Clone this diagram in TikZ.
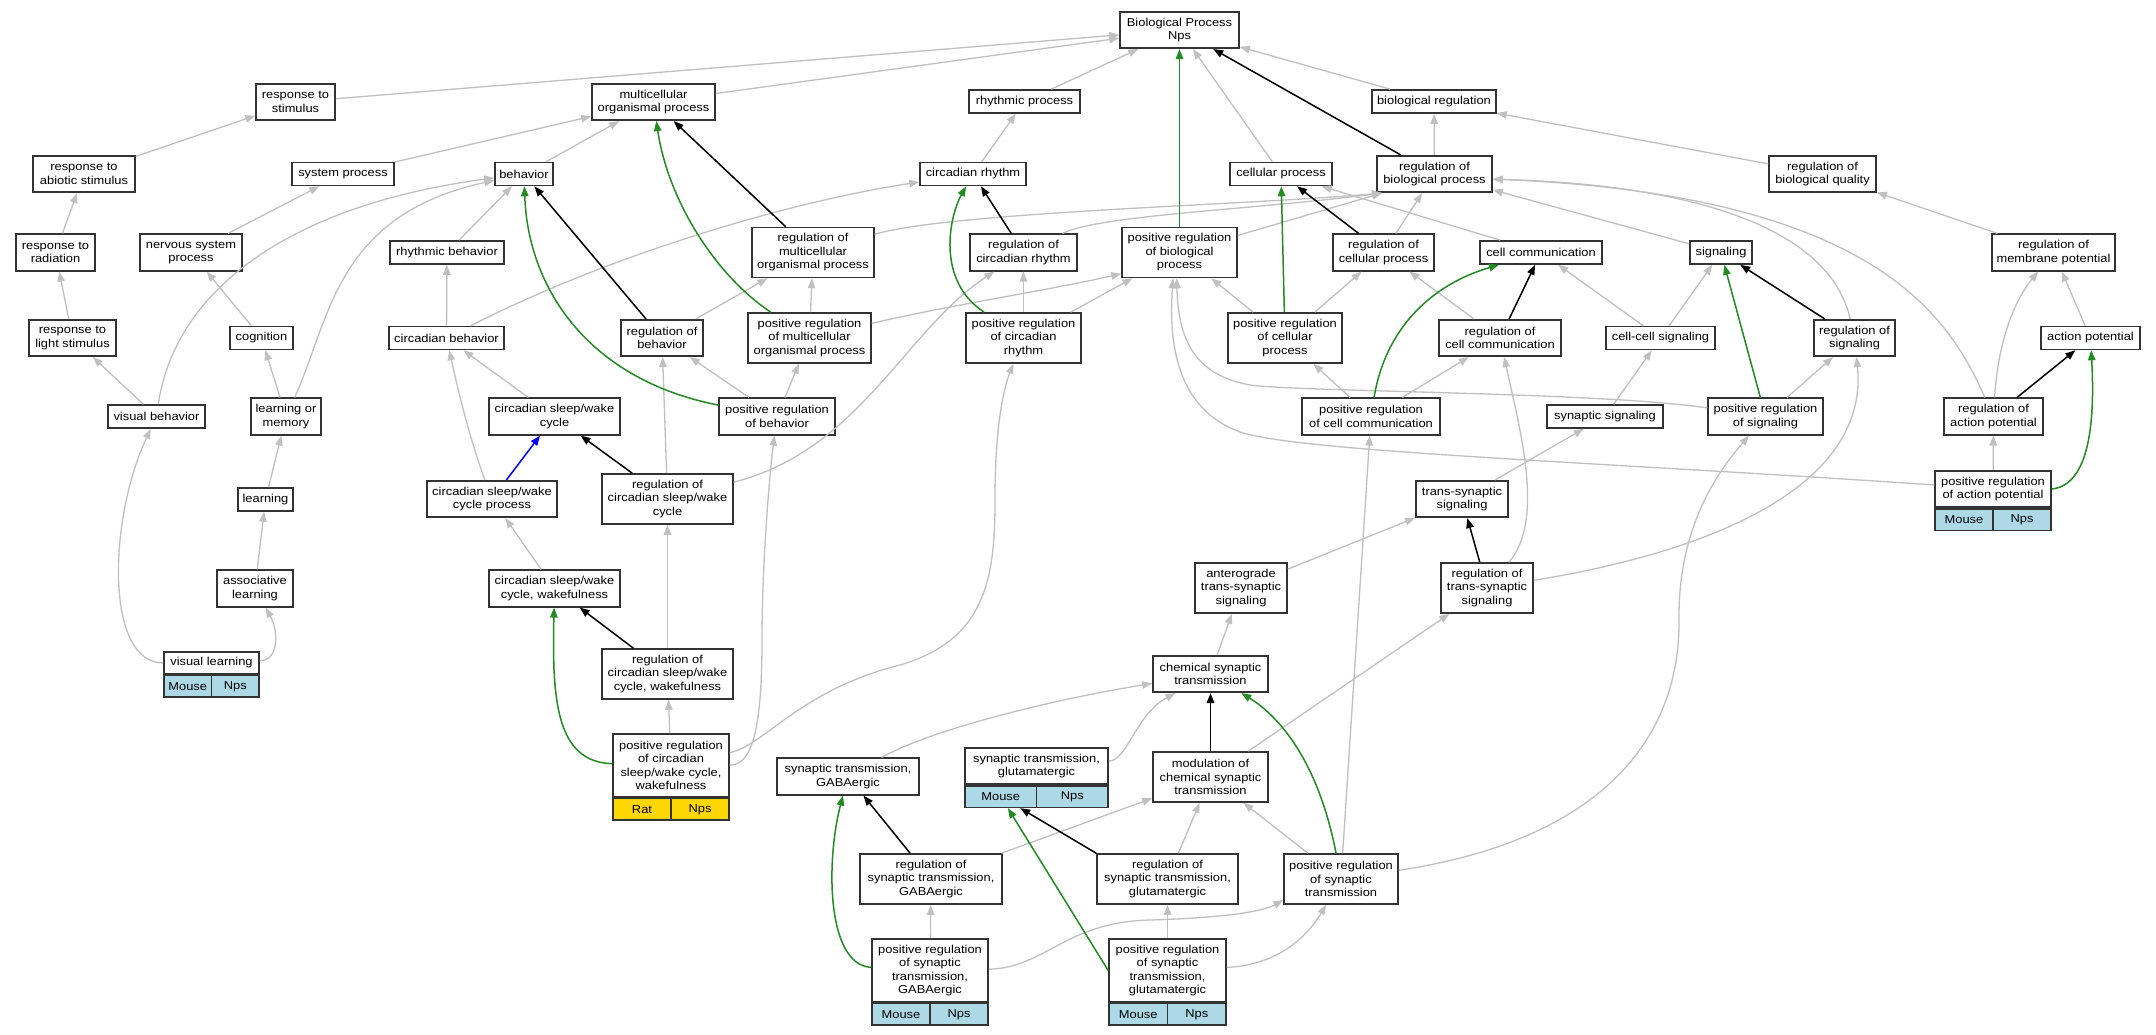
\documentclass[tikz,border=0pt]{standalone}
\usepackage{fontspec}
\setmainfont{Liberation Sans}[FakeStretch=1.12]
\usetikzlibrary{arrows.meta}
\definecolor{isagray}{HTML}{C0C0C0}
\definecolor{posgreen}{HTML}{228B22}
\definecolor{mouseblue}{HTML}{ADD8E6}
\definecolor{ratgold}{HTML}{FFD700}
\begin{document}
\begin{tikzpicture}[x=1pt, y=1pt, >={Triangle[length=10pt,width=7.5pt]},
  term/.style={draw=black!80, line width=1.6, fill=white, inner sep=0pt, align=center, minimum height=23},
  h2/.style={minimum height=36.5}, h3/.style={minimum height=50}, h4/.style={minimum height=63},
  gene/.style={draw=black!80, line width=1.6, inner sep=0pt, minimum height=21.5},
  isa/.style={->, isagray, line width=1.3},
  reg/.style={->, black, line width=1.5},
  posreg/.style={->, posgreen, line width=1.5},
  partof/.style={->, blue, line width=1.5}]
\path[fill=white] (0,0) rectangle (2156,-1035);
\useasboundingbox (0,0) rectangle (2156,-1035);
\begin{scope}[every node/.style={font=\fontsize{11.5}{13.5}\selectfont}]
\node[term, h2, minimum width=119] (bp) at (1179.5,-30) {Biological Process\\Nps};
\node[term, h2, minimum width=79] (respstim) at (295.5,-102) {response to\\stimulus};
\node[term, h2, minimum width=123] (multorg) at (653.5,-102) {multicellular\\organismal process};
\node[term, minimum width=111] (rhythproc) at (1024.5,-101.5) {rhythmic process};
\node[term, minimum width=124] (bioreg) at (1434,-101.5) {biological regulation};
\node[term, h2, minimum width=102] (respabio) at (84,-174) {response to\\abiotic stimulus};
\node[term, minimum width=102] (sysproc) at (343,-174) {system process};
\node[term, minimum width=58] (behavior) at (524,-174) {behavior};
\node[term, minimum width=106] (circrhythm) at (973,-174) {circadian rhythm};
\node[term, minimum width=102] (cellproc) at (1281,-174) {cellular process};
\node[term, h2, minimum width=115] (regbp) at (1434.5,-174) {regulation of\\biological process};
\node[term, h2, minimum width=107] (regbioqual) at (1822.5,-174) {regulation of\\biological quality};
\node[term, h2, minimum width=79] (resprad) at (55.5,-252.5) {response to\\radiation};
\node[term, h2, minimum width=102] (nervsys) at (191,-252.5) {nervous system\\process};
\node[term, minimum width=114] (rhythbeh) at (447,-252.5) {rhythmic behavior};
\node[term, h3, minimum width=122] (regmulti) at (813,-252.5) {regulation of\\multicellular\\organismal process};
\node[term, h2, minimum width=107] (regcircr) at (1023.5,-252.5) {regulation of\\circadian rhythm};
\node[term, h3, minimum width=115] (posregbp) at (1179.5,-252.5) {positive regulation\\of biological\\process};
\node[term, h2, minimum width=101] (regcellproc) at (1383.5,-252.5) {regulation of\\cellular process};
\node[term, minimum width=122] (cellcomm) at (1541,-252.5) {cell communication};
\node[term, minimum width=62] (signaling) at (1721,-252.5) {signaling};
\node[term, h2, minimum width=123] (regmemb) at (2053.5,-252.5) {regulation of\\membrane potential};
\node[term, h2, minimum width=87] (resplight) at (72.5,-338) {response to\\light stimulus};
\node[term, minimum width=63] (cognition) at (261.5,-338) {cognition};
\node[term, minimum width=115] (circbeh) at (446.5,-338) {circadian behavior};
\node[term, h2, minimum width=82] (regbeh) at (662,-338) {regulation of\\behavior};
\node[term, h3, minimum width=123] (posregmulti) at (809.5,-338) {positive regulation\\of multicellular\\organismal process};
\node[term, h3, minimum width=115] (posregcircr) at (1023.5,-338) {positive regulation\\of circadian\\rhythm};
\node[term, h3, minimum width=114] (posregcell) at (1285,-338) {positive regulation\\of cellular\\process};
\node[term, h2, minimum width=122] (regcellcomm) at (1500,-338) {regulation of\\cell communication};
\node[term, minimum width=109] (cellcell) at (1660.5,-338) {cell-cell signaling};
\node[term, h2, minimum width=81] (regsig) at (1854.5,-338) {regulation of\\signaling};
\node[term, minimum width=99] (actpot) at (2090.5,-338) {action potential};
\node[term, minimum width=97] (visbeh) at (156.5,-416.5) {visual behavior};
\node[term, h2, minimum width=70] (learnmem) at (286,-416.5) {learning or\\memory};
\node[term, h2, minimum width=131] (cswcycle) at (554.5,-416.5) {circadian sleep/wake\\cycle};
\node[term, h2, minimum width=116] (posregbeh) at (777,-416.5) {positive regulation\\of behavior};
\node[term, h2, minimum width=138] (posregcc) at (1371,-416.5) {positive regulation\\of cell communication};
\node[term, minimum width=116] (synsig) at (1605,-416.5) {synaptic signaling};
\node[term, h2, minimum width=115] (posregsig) at (1765.5,-416.5) {positive regulation\\of signaling};
\node[term, h2, minimum width=99] (regactpot) at (1993.5,-416.5) {regulation of\\action potential};
\node[term, minimum width=55] (learning) at (265.5,-499.5) {learning};
\node[term, h2, minimum width=130] (cswproc) at (492,-499) {circadian sleep/wake\\cycle process};
\node[term, h3, minimum width=131] (regcsw) at (667.5,-499) {regulation of\\circadian sleep/wake\\cycle};
\node[term, h2, minimum width=92] (transsyn) at (1462,-499) {trans-synaptic\\signaling};
\node[term, h2, minimum width=116] (posregap) at (1993,-489) {positive regulation\\of action potential};
\node[term, h2, minimum width=76] (assoc) at (255,-588.5) {associative\\learning};
\node[term, h2, minimum width=131] (cswwake) at (554.5,-588.5) {circadian sleep/wake\\cycle, wakefulness};
\node[term, h3, minimum width=92] (antero) at (1241,-588) {anterograde\\trans-synaptic\\signaling};
\node[term, h3, minimum width=92] (regtranssyn) at (1487,-588) {regulation of\\trans-synaptic\\signaling};
\node[term, minimum height=22, minimum width=95] (vislearn) at (211.5,-663) {visual learning};
\node[term, h3, minimum width=131] (regcswwake) at (667.5,-674) {regulation of\\circadian sleep/wake\\cycle, wakefulness};
\node[term, h2, minimum width=115] (chemsyn) at (1210.5,-674) {chemical synaptic\\transmission};
\node[term, h4, minimum width=116] (posregcsw) at (671,-765.5) {positive regulation\\of circadian\\sleep/wake cycle,\\wakefulness};
\node[term, h2, minimum width=142] (syngaba) at (848,-776.5) {synaptic transmission,\\GABAergic};
\node[term, h2, minimum width=143] (synglut) at (1036.5,-766) {synaptic transmission,\\glutamatergic};
\node[term, h3, minimum width=115] (modul) at (1210.5,-777) {modulation of\\chemical synaptic\\transmission};
\node[term, h3, minimum width=142] (regsyngaba) at (931,-879) {regulation of\\synaptic transmission,\\GABAergic};
\node[term, h3, minimum width=141] (regsynglut) at (1167.5,-879) {regulation of\\synaptic transmission,\\glutamatergic};
\node[term, h3, minimum width=114] (posregsyn) at (1341,-879) {positive regulation\\of synaptic\\transmission};
\node[term, h4, minimum width=116] (posgaba) at (930,-970.5) {positive regulation\\of synaptic\\transmission,\\GABAergic};
\node[term, h4, minimum width=117] (posglut) at (1167.5,-970.5) {positive regulation\\of synaptic\\transmission,\\glutamatergic};
%\node[term, minimum width=] () at (,) {};
% annotation tables
\node[gene, fill=mouseblue, minimum width=47.5, anchor=north west] (vislearn-m) at (vislearn.south west) {Mouse};
\node[gene, fill=mouseblue, minimum width=47.5, anchor=north east] (vislearn-n) at (vislearn.south east) {Nps};
\node[gene, fill=mouseblue, minimum width=58, anchor=north west] (posregap-m) at (posregap.south west) {Mouse};
\node[gene, fill=mouseblue, minimum width=58, anchor=north east] (posregap-n) at (posregap.south east) {Nps};
\node[gene, fill=ratgold, minimum width=58, anchor=north west] (posregcsw-r) at (posregcsw.south west) {Rat};
\node[gene, fill=ratgold, minimum width=58, anchor=north east] (posregcsw-n) at (posregcsw.south east) {Nps};
\node[gene, fill=mouseblue, minimum width=71.5, anchor=north west] (synglut-m) at (synglut.south west) {Mouse};
\node[gene, fill=mouseblue, minimum width=71.5, anchor=north east] (synglut-n) at (synglut.south east) {Nps};
\node[gene, fill=mouseblue, minimum width=58, anchor=north west] (posgaba-m) at (posgaba.south west) {Mouse};
\node[gene, fill=mouseblue, minimum width=58, anchor=north east] (posgaba-n) at (posgaba.south east) {Nps};
\node[gene, fill=mouseblue, minimum width=58.5, anchor=north west] (posglut-m) at (posglut.south west) {Mouse};
\node[gene, fill=mouseblue, minimum width=58.5, anchor=north east] (posglut-n) at (posglut.south east) {Nps};
\end{scope}
\begin{scope}
% is_a
\draw[isa] (respstim) -- (bp);
\draw[isa] (multorg) -- (bp);
\draw[isa] (rhythproc) -- (bp);
\draw[isa] (cellproc) -- (bp);
\draw[isa] (bioreg) -- (bp);
\draw[isa] (respabio) -- (respstim);
\draw[isa] (sysproc) -- (multorg);
\draw[isa] (behavior) -- (multorg);
\draw[isa] (circrhythm) -- (rhythproc);
\draw[isa] (regbp) -- (bioreg);
\draw[isa] (regbioqual) -- (bioreg);
\draw[isa] (resprad) -- (respabio);
\draw[isa] (nervsys) -- (sysproc);
\draw[isa] (rhythbeh) -- (behavior);
\draw[isa] (visbeh) .. controls (175,-290) and (290,-205) .. (behavior);
\draw[isa] (learnmem) .. controls (330,-320) and (335,-215) .. (behavior);
\draw[isa] (circbeh) .. controls (620,-250) and (800,-200) .. (circrhythm);
\draw[isa] (cellcomm) -- (cellproc);
\draw[isa] (regcellproc) -- (regbp);
\draw[isa] (regmulti) .. controls (950,-212) and (1250,-205) .. (regbp.200);
\draw[isa] (regcircr) .. controls (1100,-215) and (1250,-210) .. (regbp.200);
\draw[isa] (posregbp) -- (regbp.200);
\draw[isa] (signaling) -- (regbp);
\draw[isa] (regsig) .. controls (1830,-230) and (1700,-185) .. (regbp.-5);
\draw[isa] (regactpot) .. controls (1950,-320) and (1880,-195) .. (regbp.-5);
\draw[isa] (regmemb) -- (regbioqual);
\draw[isa] (regactpot) .. controls (1998,-340) and (2015,-300) .. (regmemb);
\draw[isa] (actpot) -- (regmemb);
\draw[isa] (posregap) -- (regactpot);
\draw[isa] (posregmulti) .. controls (950,-305) and (1050,-290) .. (posregbp.-160);
\draw[isa] (posregcircr) -- (posregbp);
\draw[isa] (posregcell) -- (posregbp);
\draw[isa] (posregsig) .. controls (1600,-392) and (1300,-392) .. (1250,-385) .. controls (1195,-375) and (1178,-340) .. (posregbp.-96);
\draw[isa] (posregap) .. controls (1600,-462) and (1300,-452) .. (1240,-432) .. controls (1180,-410) and (1168,-350) .. (posregbp.-104);
\draw[isa] (regbeh) -- (regmulti);
\draw[isa] (posregmulti) -- (regmulti);
\draw[isa] (posregcircr) -- (regcircr);
\draw[isa] (regcsw) .. controls (860,-450) and (905,-330) .. (regcircr);
\draw[isa] (cellcell) -- (cellcomm);
\draw[isa] (posregcell) -- (regcellproc);
\draw[isa] (regcellcomm) -- (regcellproc);
\draw[isa] (cellcell) -- (signaling);
\draw[isa] (posregcc) -- (regcellcomm);
\draw[isa] (regtranssyn) .. controls (1545,-520) and (1520,-430) .. (regcellcomm);
\draw[isa] (posregsig) -- (regsig);
\draw[isa] (regtranssyn) .. controls (1750,-545) and (1868,-470) .. (regsig);
\draw[isa] (synsig) -- (cellcell);
\draw[isa] (posregcc) -- (posregcell);
\draw[isa] (posregsyn) -- (posregcc);
\draw[isa] (posregsyn) .. controls (1600,-840) and (1680,-740) .. (1679,-620) .. controls (1678,-530) and (1715,-475) .. (posregsig);
\draw[isa] (transsyn) -- (synsig);
\draw[isa] (antero) -- (transsyn);
\draw[isa] (chemsyn) -- (antero);
\draw[isa] (modul) -- (regtranssyn);
\draw[isa] (syngaba) .. controls (930,-730) and (1050,-700) .. (chemsyn);
\draw[isa] (synglut) .. controls (1128,-760) and (1135,-715) .. (chemsyn);
\draw[isa] (regsyngaba) -- (modul);
\draw[isa] (regsynglut) -- (modul);
\draw[isa] (posregsyn) -- (modul);
\draw[isa] (posgaba) -- (regsyngaba);
\draw[isa] (posglut) -- (regsynglut);
\draw[isa] (posgaba) .. controls (1045,-968) and (1065,-922) .. (1150,-920) .. controls (1220,-918) and (1262,-912) .. (posregsyn.-160);
\draw[isa] (posglut) .. controls (1275,-965) and (1305,-940) .. (posregsyn.-120);
\draw[isa] (resplight) -- (resprad);
\draw[isa] (visbeh) -- (resplight);
\draw[isa] (vislearn) .. controls (105,-663) and (108,-520) .. (visbeh);
\draw[isa] (vislearn) .. controls (280,-660) and (278,-630) .. (assoc);
\draw[isa] (assoc) -- (learning);
\draw[isa] (learning) -- (learnmem);
\draw[isa] (learnmem) -- (cognition);
\draw[isa] (cognition) -- (nervsys);
\draw[isa] (circbeh) -- (rhythbeh);
\draw[isa] (cswcycle) -- (circbeh);
\draw[isa] (cswproc) .. controls (470,-440) and (458,-390) .. (circbeh);
\draw[isa] (cswwake) -- (cswproc);
\draw[isa] (regcsw) -- (regbeh);
\draw[isa] (regcswwake) -- (regcsw);
\draw[isa] (posregcsw) -- (regcswwake);
\draw[isa] (posregcsw) .. controls (752,-765) and (762,-730) .. (762,-640) .. controls (762,-560) and (770,-470) .. (posregbeh);
\draw[isa] (posregcsw) .. controls (765,-745) and (800,-690) .. (900,-665) .. controls (985,-640) and (995,-580) .. (995,-500) .. controls (995,-420) and (1005,-385) .. (posregcircr);
\draw[isa] (posregbeh) -- (regbeh);
\draw[isa] (posregbeh) -- (posregmulti);
% regulates
\draw[reg] (regbp) -- (bp);
\draw[reg] (regmulti) -- (multorg);
\draw[reg] (regbeh) -- (behavior);
\draw[reg] (regcircr) -- (circrhythm);
\draw[reg] (regcellproc) -- (cellproc);
\draw[reg] (regcellcomm) -- (cellcomm);
\draw[reg] (regsig) -- (signaling);
\draw[reg] (regcsw) -- (cswcycle);
\draw[reg] (regcswwake) -- (cswwake);
\draw[reg] (regtranssyn) -- (transsyn);
\draw[reg] (modul) -- (chemsyn);
\draw[reg] (regsyngaba) -- (syngaba);
\draw[reg] (regsynglut.north west) -- (synglut-m);
\draw[reg] (regactpot) -- (actpot);
% positively regulates
\draw[posreg] (posregbp) -- (bp);
\draw[posreg] (posregmulti) .. controls (715,-275) and (668,-200) .. (multorg);
\draw[posreg] (posregbeh) .. controls (590,-380) and (528,-290) .. (behavior);
\draw[posreg] (posregcircr) .. controls (935,-280) and (950,-215) .. (circrhythm);
\draw[posreg] (posregcell) -- (cellproc);
\draw[posreg] (posregcc) .. controls (1385,-330) and (1430,-285) .. (cellcomm);
\draw[posreg] (posregsig) -- (signaling);
\draw[posreg] (posregcsw) .. controls (556,-762) and (552,-700) .. (cswwake);
\draw[posreg] (posregsyn) .. controls (1320,-770) and (1285,-720) .. (chemsyn);
\draw[posreg] (posgaba) .. controls (826,-965) and (826,-860) .. (syngaba);
\draw[posreg] (posglut.west) -- (synglut-m);
\draw[posreg] (posregap.east) .. controls (2090,-485) and (2095,-420) .. (actpot);
% part_of
\draw[partof] (cswproc) -- (cswcycle);
%\draw[isa] () -- ();
\end{scope}
\end{tikzpicture}
\end{document}
